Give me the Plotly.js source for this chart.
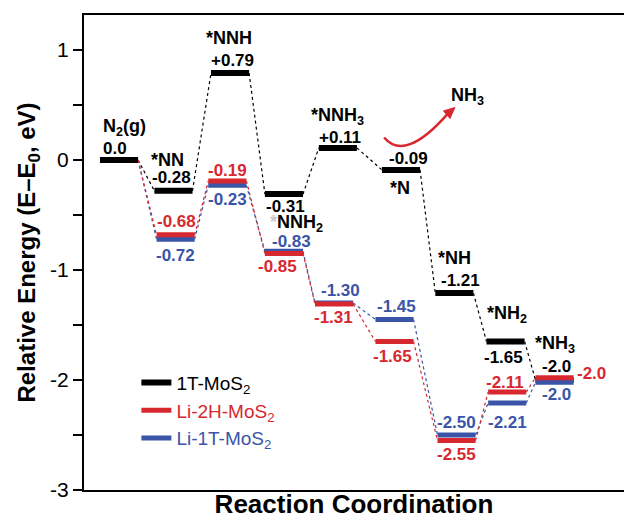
<!DOCTYPE html>
<html>
<head>
<meta charset="utf-8">
<script src="https://cdn.plot.ly/plotly-3.0.1.min.js"></script>
<style>html,body{margin:0;padding:0;background:#fff;}#chart{width:624px;height:521px;}</style>
</head>
<body>
<div id="chart"></div>
<script>
// ---------- data ----------
const species = ['N<sub>2</sub>(g)', '*NN', '*NNH', '<span style="color:#c8c8c8">*</span>NNH<sub>2</sub>', '*NNH<sub>3</sub>', '*N', '*NH', '*NH<sub>2</sub>', '*NH<sub>3</sub>'];
const step1T = [0, 1, 2.04, 3.03, 4.02, 5.18, 6.16, 7.10, 8.0];
const stepLi = [0, 1.04, 1.99, 3.03, 3.95, 5.06, 6.20, 7.13, 8.0];
const e1T   = [0.0, -0.28, 0.79, -0.31, 0.11, -0.09, -1.21, -1.65, -2.0];
const eLi2H = [0.0, -0.68, -0.19, -0.85, -1.31, -1.65, -2.55, -2.11, -1.98];
const eLi1T = [0.0, -0.72, -0.23, -0.83, -1.30, -1.45, -2.50, -2.21, -2.02];
const lab1T   = ['0.0', '-0.28', '+0.79', '-0.31', '+0.11', '-0.09', '-1.21', '-1.65', '-2.0'];
const labLi2H = ['', '-0.68', '-0.19', '-0.85', '-1.31', '-1.65', '-2.55', '-2.11', '-2.0'];
const labLi1T = ['', '-0.72', '-0.23', '-0.83', '-1.30', '-1.45', '-2.50', '-2.21', '-2.0'];
const seriesNames = ['1T-MoS<sub>2</sub>', 'Li-2H-MoS<sub>2</sub>', 'Li-1T-MoS<sub>2</sub>'];
const yTickVals = [-3, -2, -1, 0, 1];
const yTickText = ['-3', '-2', '-1', '0', '1'];

// ---------- style ----------
const BLACK = '#000000', RED = '#d7282f', BLUE = '#3a55a8';
const HW = 0.35;           // half width of a level bar (x units)
const FONT = '"Liberation Sans", Arial, sans-serif';
// label pixel offsets [dx, dy(down)]
const offSpecies = [[5,-32],[-6,-31],[-1,-35],[13,29],[0,-31],[-1,18],[0,-35],[1,-27],[0,-36]];
const off1T   = [[-4,-11],[-2,-13],[2,-13],[2,12],[2,-10],[7,-11],[6,-13],[-2,16],[2,-14]];
const offLi2H = [null,[1,-13],[0,-10],[-6,13],[-1,13],[-2,15],[0,14],[-2,-10],[37,-4]];
const offLi1T = [null,[0,16],[0,14],[8,-10],[6,-12],[2,-13],[0,-13],[0,19],[2,12]];

function bars(X, E, skipFirst) {
  const x = [], y = [];
  X.forEach((xi, i) => {
    if (skipFirst && i === 0) return;
    x.push(xi - HW, xi + HW, null); y.push(E[i], E[i], null);
  });
  return {x, y};
}
function links(X0, E0, X, E) {
  const x = [], y = [];
  for (let i = 0; i < X.length - 1; i++) {
    const xs = (i === 0 ? X0[0] : X[i]) + HW;
    const ys = (i === 0 ? E0[0] : E[i]);
    x.push(xs, X[i + 1] - HW, null); y.push(ys, E[i + 1], null);
  }
  return {x, y};
}

const traces = [];
const l1 = links(step1T, e1T, step1T, e1T);
const l2 = links(step1T, e1T, stepLi, eLi2H);
const l3 = links(step1T, e1T, stepLi, eLi1T);
traces.push({x: l1.x, y: l1.y, mode: 'lines', line: {color: BLACK, width: 1.2, dash: 'dot'}, showlegend: false, hoverinfo: 'skip'});
traces.push({x: l3.x, y: l3.y, mode: 'lines', line: {color: BLUE, width: 1.2, dash: 'dot'}, showlegend: false, hoverinfo: 'skip'});
traces.push({x: l2.x, y: l2.y, mode: 'lines', line: {color: RED, width: 1.2, dash: 'dot'}, showlegend: false, hoverinfo: 'skip'});
const b1 = bars(step1T, e1T, false);
const b2 = bars(stepLi, eLi2H, true);
const b3 = bars(stepLi, eLi1T, true);
traces.push({x: b1.x, y: b1.y, mode: 'lines', line: {color: BLACK, width: 6}, name: seriesNames[0], legendrank: 1, legendgroup: 'a'});
traces.push({x: b3.x, y: b3.y, mode: 'lines', line: {color: BLUE, width: 5}, name: '<span style="color:' + BLUE + '">' + seriesNames[2] + '</span>', legendrank: 3, legendgroup: 'c'});
traces.push({x: b2.x, y: b2.y, mode: 'lines', line: {color: RED, width: 5}, name: '<span style="color:' + RED + '">' + seriesNames[1] + '</span>', legendrank: 2, legendgroup: 'b'});

const annotations = [];
function addLabels(X, E, labels, offs, color, size) {
  labels.forEach((t, i) => {
    if (!t || !offs[i]) return;
    annotations.push({x: X[i], y: E[i], xref: 'x', yref: 'y', text: t, showarrow: false,
      xshift: offs[i][0], yshift: -offs[i][1],
      font: {family: FONT, size: size, color: color, weight: 'bold'}});
  });
}
addLabels(step1T, e1T, species, offSpecies, BLACK, 18);
addLabels(step1T, e1T, lab1T, off1T, BLACK, 17);
addLabels(stepLi, eLi2H, labLi2H, offLi2H, RED, 17);
addLabels(stepLi, eLi1T, labLi1T, offLi1T, BLUE, 17);

annotations.push({x: 6.4, y: 0.58, xref: 'x', yref: 'y', text: 'NH<sub>3</sub>', showarrow: false,
  font: {family: FONT, size: 18, color: BLACK, weight: 'bold'}});

// NH3 release arrow (decoration): curved shaft + filled head
const shapes = [
  {type: 'path', xref: 'x', yref: 'y', path: 'M 4.87 0.205 Q 5.25 -0.02 6.02 0.41',
    line: {color: RED, width: 2.5}},
  {type: 'path', xref: 'x', yref: 'y', path: 'M 6.17 0.477 L 6.08 0.377 L 5.96 0.446 Z',
    fillcolor: RED, line: {color: RED, width: 1}}
];

const layout = {
  width: 624, height: 521,
  margin: {l: 84, r: 0, t: 15, b: 31, pad: 0},
  paper_bgcolor: '#fff', plot_bgcolor: '#fff',
  font: {family: FONT, color: BLACK},
  showlegend: true,
  legend: {x: 0.097, y: 0.266, xanchor: 'left', yanchor: 'top', bgcolor: 'rgba(0,0,0,0)',
    font: {family: FONT, size: 19, color: BLACK}, traceorder: 'grouped', tracegroupgap: 0},
  xaxis: {range: [-0.643, 9.276], showgrid: false, zeroline: false, showticklabels: false, ticks: '',
    showline: true, linewidth: 2, linecolor: BLACK, mirror: true,
    title: {text: 'Reaction Coordination', font: {family: FONT, size: 26, color: BLACK, weight: 'bold'}, standoff: 4}},
  yaxis: {range: [-3.0, 1.318], showgrid: false, zeroline: false, showline: true, linewidth: 2, linecolor: BLACK,
    ticks: 'outside', ticklen: 9, tickwidth: 2, tickcolor: BLACK, tickvals: yTickVals, ticktext: yTickText,
    minor: {dtick: 0.5, tick0: 0, ticks: 'outside', ticklen: 9, tickwidth: 2, tickcolor: BLACK, showgrid: false},
    tickfont: {family: FONT, size: 21, color: BLACK},
    title: {text: 'Relative Energy (E\u2013E<sub>0</sub>, eV)', font: {family: FONT, size: 24, color: BLACK, weight: 'bold'}, standoff: 8}},
  annotations: annotations,
  shapes: shapes
};

Plotly.newPlot('chart', traces, layout, {staticPlot: true, displayModeBar: false});
</script>
</body>
</html>
